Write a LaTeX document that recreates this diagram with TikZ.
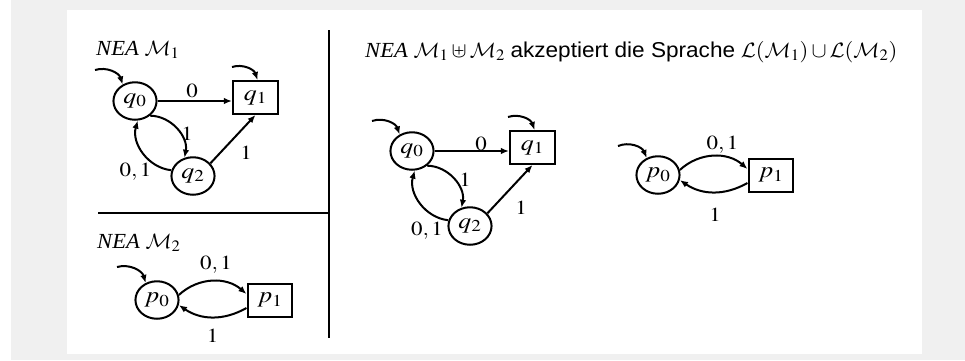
\documentclass[tikz,border=0pt]{standalone}
\usepackage{mathptmx}
\usepackage[no-math]{fontspec}
\setmainfont{Liberation Serif}
\setsansfont{Liberation Sans}
\DeclareMathAlphabet{\mathcal}{OMS}{cmsy}{m}{n}
\usetikzlibrary{arrows.meta,shapes.geometric}
\definecolor{bggray}{HTML}{F0F0F0}
\newcommand\mytitlefont{\fontsize{21.5}{24}\selectfont}
\newcommand\mylabfont{\fontsize{20}{23}\selectfont}
\newcommand\mystatefont{\fontsize{22.5}{25}\selectfont}
\begin{document}
\begin{tikzpicture}[x=1pt,y=-1pt,
  every node/.style={xscale=1.15},
  st/.style={ellipse,draw,line width=2pt,minimum width=37.5pt,minimum height=37.5pt,inner sep=0pt,font=\mystatefont},
  acc/.style={rectangle,draw,line width=2pt,minimum width=39pt,minimum height=33pt,inner sep=0pt,font=\mystatefont},
  tr/.style={-{Latex[length=8pt,width=6.5pt]},line width=2pt},
  lab/.style={inner sep=0pt,font=\mylabfont},
  ttl/.style={inner sep=0pt,font=\mytitlefont,xscale=1.05/1.15},
  divider/.style={line width=2.2pt}]
\useasboundingbox (0,0) rectangle (965,360);
\fill[bggray] (11,0) rectangle (965,360);
\fill[white] (67,10) rectangle (922,354);
\draw[divider] (329,30) -- (329,338);
\draw[divider] (98,213) -- (329,213);

\node[ttl,anchor=west] (t1) at (96,50) {\textit{NEA} $\mathcal{M}_1$};
\node[ttl,anchor=west] (t2) at (97,243) {\textit{NEA} $\mathcal{M}_2$};
\node[ttl,anchor=west] (t3) at (365,52) {\textit{NEA} $\mathcal{M}_1\uplus\mathcal{M}_2$ \textsf{akzeptiert die Sprache} $\mathcal{L}(\mathcal{M}_1)\cup\mathcal{L}(\mathcal{M}_2)$};

% left M1
\node[st] (aq0) at (135,101) {$q_0$};
\node[acc] (aq1) at (255.5,97.5) {$q_1$};
\node[st] (aq2) at (193,176) {$q_2$};
\coordinate (aiq0) at (95,70);
\coordinate (aiq1) at (232,67);
\draw[tr] (aiq0) to[bend left=45] (aq0.123);
\draw[tr] (aiq1) to[bend left=45] ([xshift=2pt]aq1.north);
\draw[tr] (aq0.east) -- (aq0.east -| aq1.west);
\draw[tr] (aq0.-48) to[bend left=50] (aq2.112);
\draw[tr] (aq2.163) to[bend left=50] (aq0.-83);
\draw[tr] (aq2.40) -- (aq1.south);
\node[lab] (al0) at (192,90.5) {$0$};
\node[lab] (al1) at (187,134) {$1$};
\node[lab] (al2) at (135.5,172) {$0,1$};
\node[lab] (al3) at (246,153) {$1$};

% left M2
\node[st] (ap0) at (157,300) {$p_0$};
\node[acc] (ap1) at (270,300) {$p_1$};
\coordinate (aip0) at (117,267);
\draw[tr] (aip0) to[bend left=45] (ap0.120);
\draw[tr] (ap0.15) to[bend left=42] ([yshift=6pt]ap1.west);
\draw[tr] ([yshift=-8pt]ap1.west) to[bend left=32] (ap0.-15);
\node[lab] (al4) at (216,265) {$0,1$};
\node[lab] (al5) at (212.5,336) {$1$};

% right union: M1 copy
\node[st] (bq0) at (412,151) {$q_0$};
\node[acc] (bq1) at (532.5,147.5) {$q_1$};
\node[st] (bq2) at (470,226) {$q_2$};
\coordinate (biq0) at (372,121);
\coordinate (biq1) at (508,117);
\draw[tr] (biq0) to[bend left=45] (bq0.123);
\draw[tr] (biq1) to[bend left=45] ([xshift=2pt]bq1.north);
\draw[tr] (bq0.east) -- (bq0.east -| bq1.west);
\draw[tr] (bq0.-48) to[bend left=50] (bq2.112);
\draw[tr] (bq2.163) to[bend left=50] (bq0.-83);
\draw[tr] (bq2.40) -- (bq1.south);
\node[lab] (bl0) at (481,144) {$0$};
\node[lab] (bl1) at (465,180) {$1$};
\node[lab] (bl2) at (427,231) {$0,1$};
\node[lab] (bl3) at (521,208) {$1$};

% right union: M2 copy
\node[st] (bp0) at (658,175) {$p_0$};
\node[acc] (bp1) at (771,175) {$p_1$};
\coordinate (bip0) at (618,146);
\draw[tr] (bip0) to[bend left=45] (bp0.120);
\draw[tr] (bp0.15) to[bend left=42] ([yshift=6pt]bp1.west);
\draw[tr] ([yshift=-8pt]bp1.west) to[bend left=32] (bp0.-15);
\node[lab] (bl4) at (722.5,145) {$0,1$};
\node[lab] (bl5) at (715,215) {$1$};
\end{tikzpicture}
\end{document}
